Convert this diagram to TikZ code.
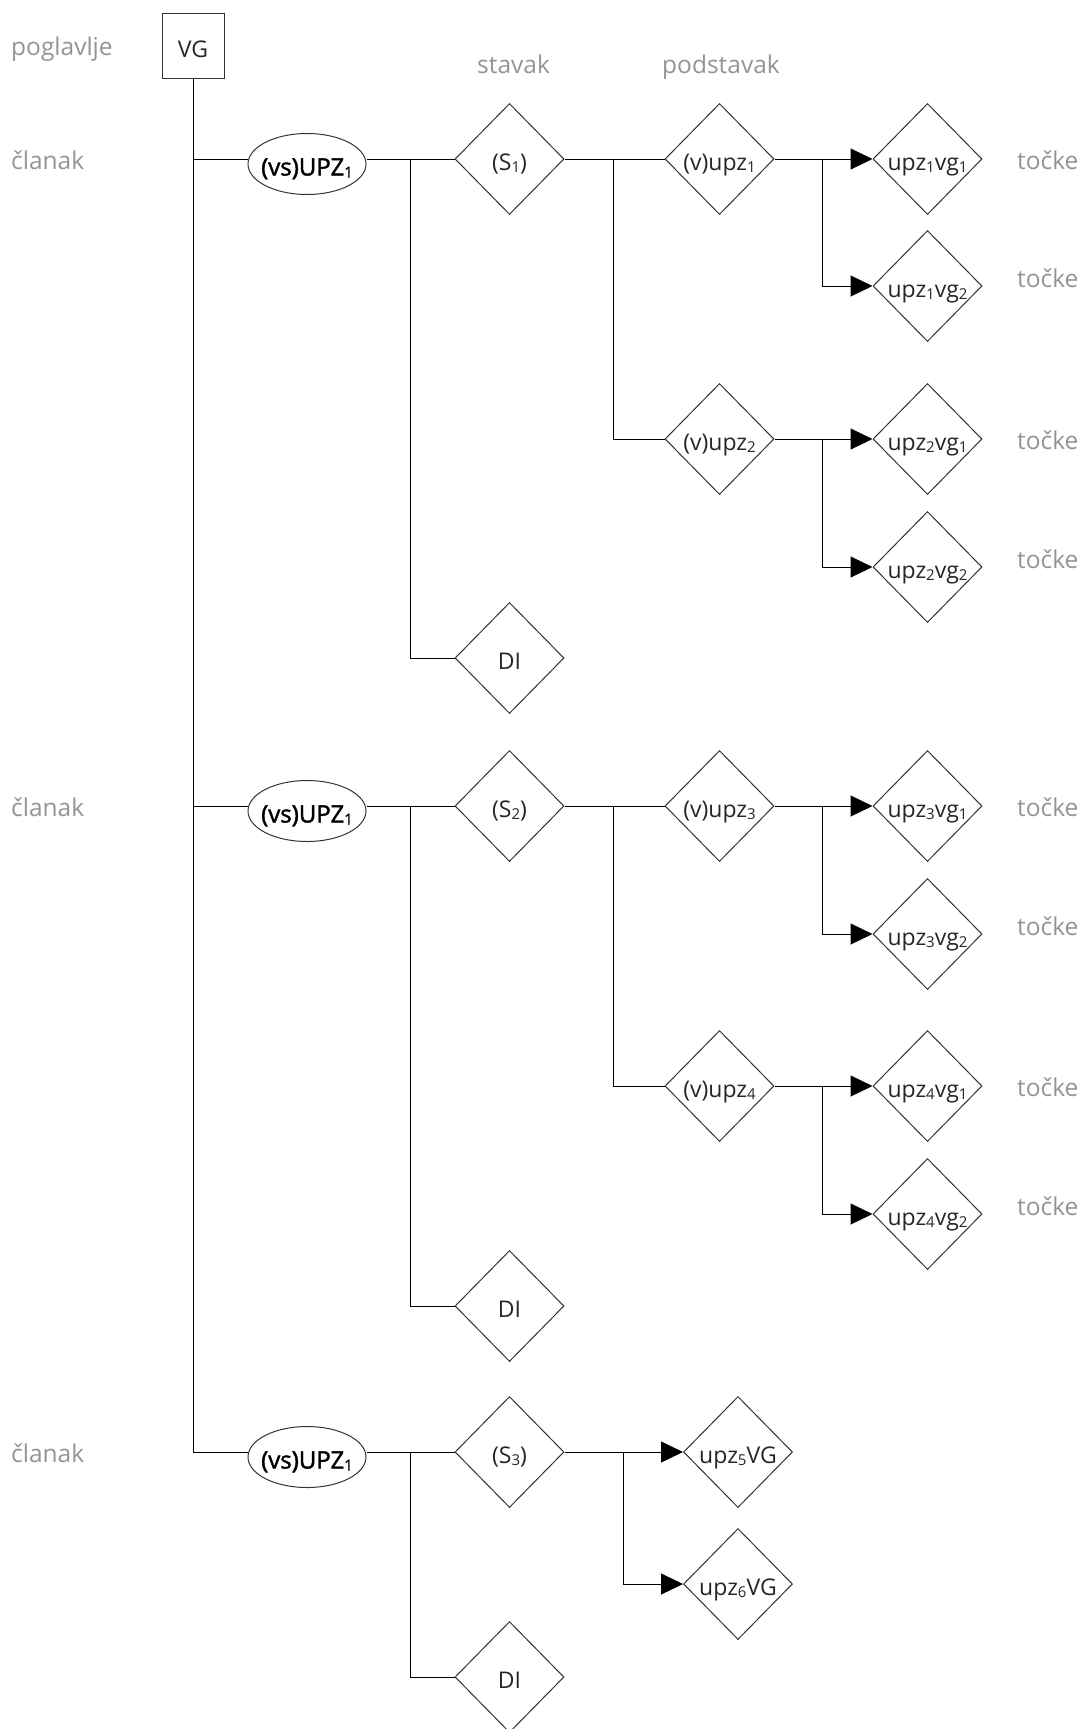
\documentclass[tikz,border=0pt]{standalone}
\usepackage{fontspec}
\setmainfont{Open Sans}
\newfontfamily\semibold{Open Sans}[FakeBold=1.6]
\usetikzlibrary{shapes.geometric,arrows.meta}
\newcommand\subx[1]{\raisebox{-2pt}{\fontsize{15pt}{15pt}\selectfont #1}}
\newcommand\ctr[1]{\makebox[0pt]{#1}}
\tikzset{
  basenode/.style={inner sep=0pt, text height=23pt, text depth=0pt,
    font=\fontsize{23pt}{27pt}\selectfont, text=black!85, draw=black!80, line width=1pt},
  dia/.style={basenode, diamond, minimum width=109pt, minimum height=111pt},
  ell/.style={basenode, ellipse, minimum width=118pt, minimum height=61pt,
    font=\semibold\fontsize{24pt}{28pt}\selectfont, text=black},
  boxnode/.style={basenode, rectangle, minimum width=62pt, minimum height=65pt},
  lbl/.style={anchor=base west, inner sep=0pt, font=\fontsize{24.5pt}{28pt}\selectfont, text=black!42},
  ln/.style={draw=black, line width=1pt},
  arr/.style={ln, -{Triangle[length=22pt,width=21pt]}},
}
\begin{document}
\begin{tikzpicture}[x=1pt,y=-1pt]
\useasboundingbox (0,0) rectangle (1085,1729);
% labels
\node[lbl] (Lp) at (11,55.5) {poglavlje};
\node[lbl] (Lc1) at (11,169) {članak};
\node[lbl] (Lc2) at (11,816) {članak};
\node[lbl] (Lc3) at (11,1462) {članak};
\node[lbl] (Ls) at (477,73) {stavak};
\node[lbl] (Lps) at (662,73) {podstavak};
\node[lbl] (T1) at (1017,169) {točke};
\node[lbl] (T2) at (1017,287) {točke};
\node[lbl] (T3) at (1017,449) {točke};
\node[lbl] (T4) at (1017,568) {točke};
\node[lbl] (T5) at (1017,816) {točke};
\node[lbl] (T6) at (1017,935) {točke};
\node[lbl] (T7) at (1017,1096) {točke};
\node[lbl] (T8) at (1017,1215) {točke};
% shapes
\node[boxnode] (VG) at (193,45.5) {\ctr{VG}};
\node[ell] (E1) at (307,164) {\ctr{(vs)UPZ\subx{1}}};
\node[ell] (E2) at (307,811) {\ctr{(vs)UPZ\subx{1}}};
\node[ell] (E3) at (307,1457) {\ctr{(vs)UPZ\subx{1}}};
% row 1
\node[dia] (s1) at (509.5,159) {\ctr{(S\subx{1})}};
\node[dia] (DI1) at (509.5,658) {\ctr{DI}};
\node[dia] (v1) at (719.5,159) {\ctr{(v)upz\subx{1}}};
\node[dia] (v2) at (719.5,439) {\ctr{(v)upz\subx{2}}};
\node[dia] (g11) at (927.5,159) {\ctr{upz\subx{1}vg\subx{1}}};
\node[dia] (g12) at (927.5,286) {\ctr{upz\subx{1}vg\subx{2}}};
\node[dia] (g21) at (927.5,439) {\ctr{upz\subx{2}vg\subx{1}}};
\node[dia] (g22) at (927.5,567) {\ctr{upz\subx{2}vg\subx{2}}};
% row 2
\node[dia] (s2) at (509.5,806) {\ctr{(S\subx{2})}};
\node[dia] (DI2) at (509.5,1306) {\ctr{DI}};
\node[dia] (v3) at (719.5,806) {\ctr{(v)upz\subx{3}}};
\node[dia] (v4) at (719.5,1086) {\ctr{(v)upz\subx{4}}};
\node[dia] (g31) at (927.5,806) {\ctr{upz\subx{3}vg\subx{1}}};
\node[dia] (g32) at (927.5,934) {\ctr{upz\subx{3}vg\subx{2}}};
\node[dia] (g41) at (927.5,1086) {\ctr{upz\subx{4}vg\subx{1}}};
\node[dia] (g42) at (927.5,1214) {\ctr{upz\subx{4}vg\subx{2}}};
% row 3
\node[dia] (s3) at (509.5,1452) {\ctr{(S\subx{3})}};
\node[dia] (DI3) at (509.5,1677) {\ctr{DI}};
\node[dia] (u5) at (738,1452) {\ctr{upz\subx{5}VG}};
\node[dia] (u6) at (738,1584) {\ctr{upz\subx{6}VG}};
% main trunk
\draw[ln] (VG.south) -- (VG.south |- s3.west) -- (E3.west |- s3.west);
\draw[ln] (VG.south |- s1.west) -- (E1.west |- s1.west);
\draw[ln] (VG.south |- s2.west) -- (E2.west |- s2.west);
% article -> stavak / DI
\foreach \e/\s/\d in {E1/s1/DI1, E2/s2/DI2, E3/s3/DI3}{
  \draw[ln] (\e.east |- \s.west) -- (\s.west);
  \coordinate (J\s) at ([xshift=-44pt]\s.west);
  \draw[ln] (J\s) |- (\d.west);
}
% stavak -> podstavak
\foreach \s/\a/\b in {s1/v1/v2, s2/v3/v4}{
  \draw[ln] (\s.east) -- (\a.west);
  \coordinate (K\s) at ([xshift=-51pt]\a.west);
  \draw[ln] (K\s) |- (\b.west);
}
% podstavak -> tocke
\foreach \v/\a/\b in {v1/g11/g12, v2/g21/g22, v3/g31/g32, v4/g41/g42}{
  \draw[arr] (\v.east) -- (\a.west);
  \coordinate (M\v) at ([xshift=-50pt]\a.west);
  \draw[arr] (M\v) |- (\b.west);
}
% row 3 stavak -> upz
\draw[arr] (s3.east) -- (u5.west);
\coordinate (Ms3) at ([xshift=-60pt]u5.west);
\draw[arr] (Ms3) |- (u6.west);
\end{tikzpicture}
\end{document}
